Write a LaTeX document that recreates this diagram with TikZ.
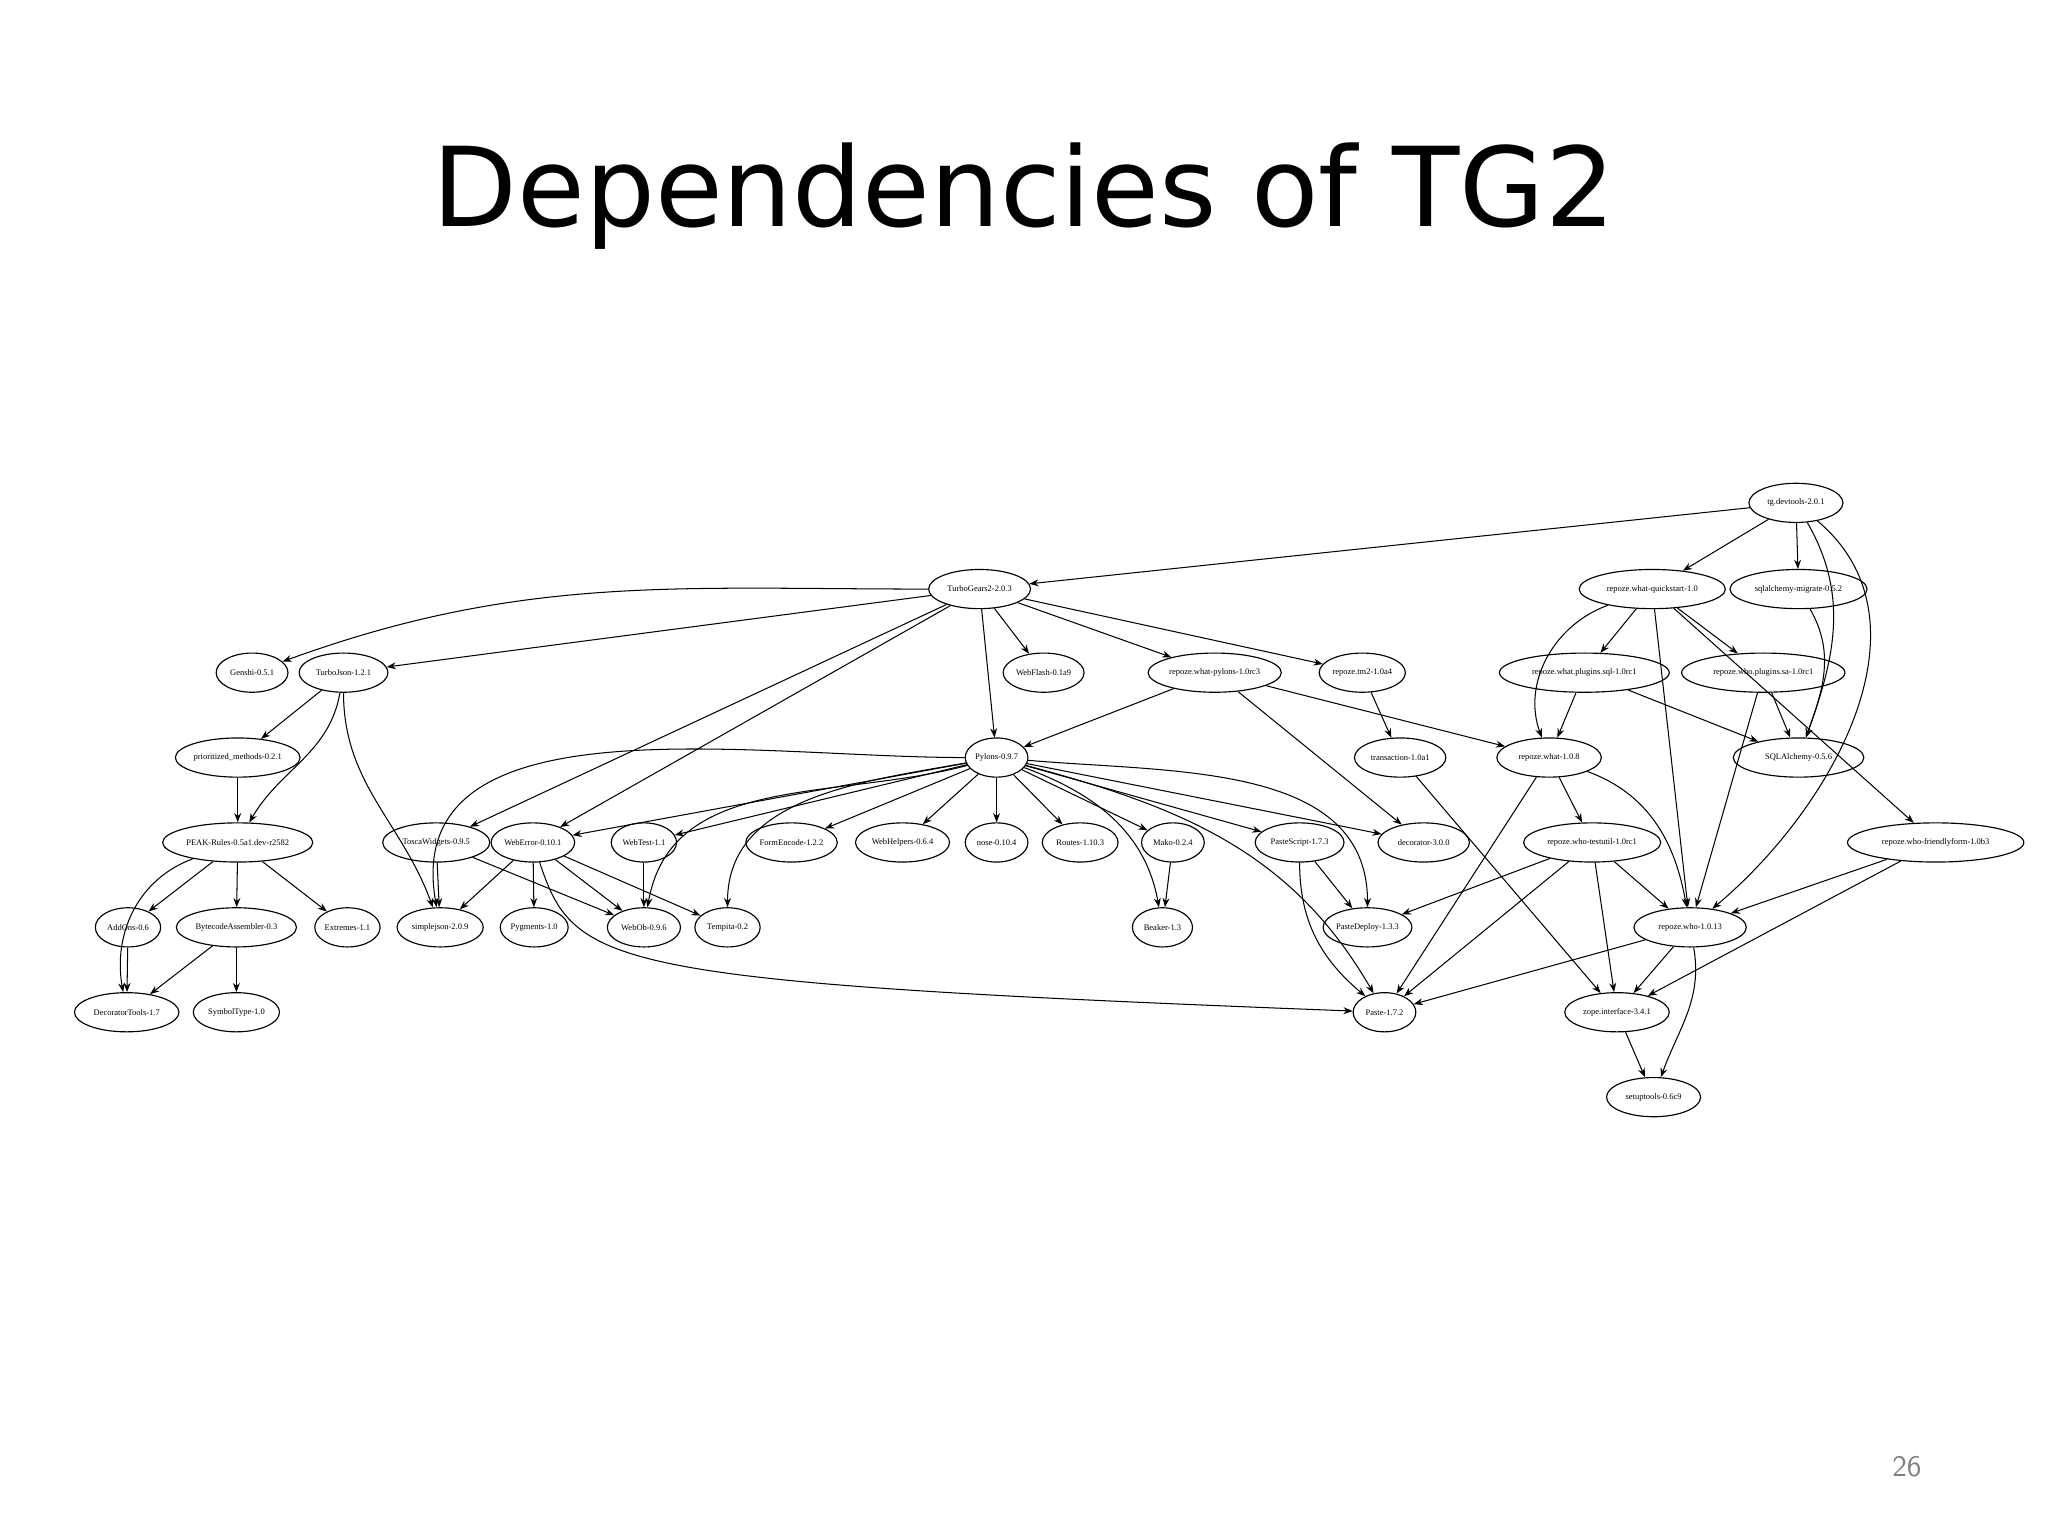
\documentclass[tikz,border=0pt]{standalone}
\usepackage{fontspec}
\setmainfont{Liberation Serif}
\newfontfamily\titlefont{DejaVu Sans}
\usetikzlibrary{shapes.geometric,arrows.meta}
\begin{document}
\begin{tikzpicture}[x=0.02cm,y=-0.02cm,
  n/.style={ellipse,draw,line width=0.5pt,minimum width=#1*0.02cm,minimum height=0.6cm,inner sep=0pt,font=\fontsize{3.7}{4.5}\selectfont},
  e/.style={-{Stealth[length=4pt,width=3pt]},line width=0.45pt}]
\useasboundingbox (0,0) rectangle (1568,1176);
\node[font=\titlefont\fontsize{48}{56}\selectfont,inner sep=0pt] (title) at (784,150) {Dependencies of TG2};
\node[text=gray,font=\sffamily\fontsize{13}{15}\selectfont] (pg) at (1460,1123) {26};
% nodes
\node[n=72] (tgdev) at (1375,385) {tg.devtools-2.0.1};
\node[n=78] (tg2) at (750,451) {TurboGears2-2.0.3};
\node[n=112] (rwq) at (1265,451) {repoze.what-quickstart-1.0};
\node[n=105] (sam) at (1377,451) {sqlalchemy-migrate-0.5.2};
\node[n=55] (genshi) at (193,515) {Genshi-0.5.1};
\node[n=68] (tjson) at (263,515) {TurboJson-1.2.1};
\node[n=62] (webflash) at (799,515) {WebFlash-0.1a9};
\node[n=102] (rwp) at (930,515) {repoze.what-pylons-1.0rc3};
\node[n=66] (tm2) at (1043,515) {repoze.tm2-1.0a4};
\node[n=130] (rwps) at (1213,515) {repoze.what.plugins.sql-1.0rc1};
\node[n=125] (rwsa) at (1350,515) {repoze.who.plugins.sa-1.0rc1};
\node[n=92] (pm) at (182,580) {prioritized\_methods-0.2.1};
\node[n=48] (pylons) at (763,580) {Pylons-0.9.7};
\node[n=70] (transaction) at (1072,580) {transaction-1.0a1};
\node[n=80] (rwhat) at (1186,580) {repoze.what-1.0.8};
\node[n=100] (sqla) at (1377,580) {SQLAlchemy-0.5.6};
\node[n=115] (peak) at (182,645) {PEAK-Rules-0.5a1.dev-r2582};
\node[n=82] (tosca) at (334,645) {ToscaWidgets-0.9.5};
\node[n=64] (weberror) at (408,645) {WebError-0.10.1};
\node[n=50] (webtest) at (493,645) {WebTest-1.1};
\node[n=70] (formencode) at (606,645) {FormEncode-1.2.2};
\node[n=72] (webhelpers) at (691,645) {WebHelpers-0.6.4};
\node[n=48] (nose) at (763,645) {nose-0.10.4};
\node[n=58] (routes) at (827,645) {Routes-1.10.3};
\node[n=48] (mako) at (898,645) {Mako-0.2.4};
\node[n=68] (pastescript) at (995,645) {PasteScript-1.7.3};
\node[n=70] (decorator) at (1090,645) {decorator-3.0.0};
\node[n=105] (rwt) at (1219,645) {repoze.who-testutil-1.0rc1};
\node[n=135] (rwf) at (1482,645) {repoze.who-friendlyform-1.0b3};
\node[n=50] (addons) at (98,710) {AddOns-0.6};
\node[n=92] (bca) at (181,710) {BytecodeAssembler-0.3};
\node[n=50] (extremes) at (266,710) {Extremes-1.1};
\node[n=66] (simplejson) at (337,710) {simplejson-2.0.9};
\node[n=52] (pygments) at (409,710) {Pygments-1.0};
\node[n=56] (webob) at (493,710) {WebOb-0.9.6};
\node[n=50] (tempita) at (557,710) {Tempita-0.2};
\node[n=46] (beaker) at (890,710) {Beaker-1.3};
\node[n=68] (pastedeploy) at (1047,710) {PasteDeploy-1.3.3};
\node[n=86] (rwho) at (1294,710) {repoze.who-1.0.13};
\node[n=80] (dect) at (97,775) {DecoratorTools-1.7};
\node[n=66] (symt) at (181,775) {SymbolType-1.0};
\node[n=48] (paste) at (1060,775) {Paste-1.7.2};
\node[n=80] (zope) at (1238,775) {zope.interface-3.4.1};
\node[n=72] (setup) at (1266,840) {setuptools-0.6c9};
% edges
\draw[e] (tgdev) -- (tg2);
\draw[e] (tgdev) -- (rwq);
\draw[e] (tgdev) -- (sam);
\draw[e] (tgdev) to[out=-60,in=70] (sqla);
\draw[e] (tgdev) to[out=-40,in=40] (rwho);
\draw[e] (tg2) to[out=180,in=20] (genshi);
\draw[e] (tg2) -- (tjson);
\draw[e] (tg2) -- (tosca);
\draw[e] (tg2) -- (weberror);
\draw[e] (tg2) -- (pylons);
\draw[e] (tg2) -- (webflash);
\draw[e] (tg2) -- (rwp);
\draw[e] (tg2) -- (tm2);
\draw[e] (tjson) -- (pm);
\draw[e] (tjson) to[out=-100,in=60] (peak);
\draw[e] (tjson) to[out=-90,in=110] (simplejson);
\draw[e] (pm) -- (peak);
\draw[e] (peak) -- (addons);
\draw[e] (peak) -- (bca);
\draw[e] (peak) -- (extremes);
\draw[e] (peak) to[out=200,in=100] (dect);
\draw[e] (addons) -- (dect);
\draw[e] (bca) -- (dect);
\draw[e] (bca) -- (symt);
\draw[e] (tosca) -- (simplejson);
\draw[e] (tosca) -- (webob);
\draw[e] (weberror) -- (simplejson);
\draw[e] (weberror) -- (pygments);
\draw[e] (weberror) -- (webob);
\draw[e] (weberror) -- (tempita);
\draw[e] (weberror) .. controls (440,740) and (460,752) .. (paste);
\draw[e] (webtest) -- (webob);
\draw[e] (pylons) to[out=180,in=100] (simplejson);
\draw[e] (pylons) -- (weberror);
\draw[e] (pylons) -- (webtest);
\draw[e] (pylons) to[out=195,in=80] (webob);
\draw[e] (pylons) to[out=190,in=90] (tempita);
\draw[e] (pylons) -- (formencode);
\draw[e] (pylons) -- (webhelpers);
\draw[e] (pylons) -- (nose);
\draw[e] (pylons) -- (routes);
\draw[e] (pylons) -- (mako);
\draw[e] (pylons) to[out=-20,in=100] (beaker);
\draw[e] (pylons) -- (pastescript);
\draw[e] (pylons) to[out=-5,in=90] (pastedeploy);
\draw[e] (pylons) to[out=-15,in=120] (paste);
\draw[e] (pylons) -- (decorator);
\draw[e] (mako) -- (beaker);
\draw[e] (pastescript) -- (pastedeploy);
\draw[e] (pastescript) to[out=-90,in=140] (paste);
\draw[e] (rwp) -- (pylons);
\draw[e] (rwp) -- (decorator);
\draw[e] (rwp) -- (rwhat);
\draw[e] (tm2) -- (transaction);
\draw[e] (transaction) -- (zope);
\draw[e] (rwq) to[out=200,in=110] (rwhat);
\draw[e] (rwq) -- (rwps);
\draw[e] (rwq) -- (rwsa);
\draw[e] (rwq) -- (rwho);
\draw[e] (rwq) -- (rwf);
\draw[e] (sam) to[out=-60,in=70] (sqla);
\draw[e] (rwps) -- (rwhat);
\draw[e] (rwps) -- (sqla);
\draw[e] (rwsa) -- (sqla);
\draw[e] (rwsa) -- (rwho);
\draw[e] (rwhat) -- (rwt);
\draw[e] (rwhat) to[out=-20,in=100] (rwho);
\draw[e] (rwhat) -- (paste);
\draw[e] (rwt) -- (pastedeploy);
\draw[e] (rwt) -- (paste);
\draw[e] (rwt) -- (zope);
\draw[e] (rwt) -- (rwho);
\draw[e] (rwf) -- (rwho);
\draw[e] (rwf) -- (zope);
\draw[e] (rwho) -- (paste);
\draw[e] (rwho) -- (zope);
\draw[e] (rwho) to[out=-80,in=70] (setup);
\draw[e] (zope) -- (setup);
\end{tikzpicture}
\end{document}
